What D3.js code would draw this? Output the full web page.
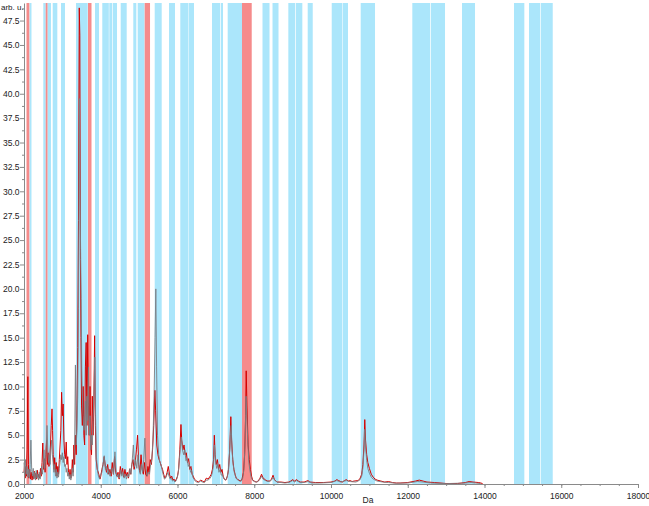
<!DOCTYPE html>
<html>
<head>
<meta charset="utf-8">
<script src="https://cdn.jsdelivr.net/npm/d3@7"></script>
<style>
body { margin: 0; background: #fff; }
svg { display: block; }
</style>
</head>
<body>
<div id="chart"></div>
<script>
// mass ranges (Da) of the highlighted peak windows
var blueBands = [
    [2143, 2195], [2503, 2566], [2612, 2704], [2748, 2868], [2964, 3068],
    [3355, 3660], [3850, 3955], [4040, 4210], [4223, 4293], [4311, 4424],
    [4520, 4676], [4848, 4927], [4963, 5140], [5406, 5588], [5779, 5935],
    [6073, 6287], [6300, 6430], [6899, 7108], [7126, 7186], [7308, 7681],
    [8215, 8398], [8476, 8632], [8888, 9062], [9081, 9253], [9393, 9524],
    [10019, 10295], [10308, 10443], [10774, 11147], [12119, 12580], [12599, 12971],
    [13414, 13753], [14769, 15038], [15160, 15447], [15465, 15778]
];
var redBands = [[2065, 2138], [2566, 2612], [3668, 3759], [5145, 5284], [7681, 7934]];

// spectrum 1 (red)
var redTrace = [
    [2000, 1.2], [2015, 2.0], [2030, 0.6], [2045, 1.8], [2060, 0.8], [2080, 3.5], [2100, 11.0],
    [2115, 2.0], [2130, 0.6], [2150, 1.5], [2170, 0.5], [2190, 1.2], [2210, 0.4], [2230, 1.0],
    [2250, 0.5], [2270, 1.3], [2290, 0.6], [2310, 1.1], [2330, 0.5], [2350, 1.4], [2370, 0.7],
    [2390, 1.0], [2410, 0.6], [2430, 1.6], [2450, 0.8], [2470, 2.2], [2490, 4.2], [2510, 1.5],
    [2530, 2.6], [2550, 1.2], [2570, 3.0], [2590, 4.5], [2610, 2.0], [2630, 3.2], [2650, 1.8],
    [2670, 2.5], [2690, 4.0], [2710, 6.0], [2730, 7.7], [2745, 5.5], [2760, 3.0], [2780, 1.5],
    [2800, 2.7], [2820, 1.2], [2840, 2.2], [2860, 0.8], [2880, 1.8], [2900, 1.0], [2920, 2.5],
    [2940, 4.0], [2960, 5.5], [2980, 9.4], [3000, 7.0], [3020, 8.2], [3040, 4.5], [3060, 3.0],
    [3080, 2.6], [3100, 4.3], [3120, 2.0], [3140, 2.8], [3160, 1.2], [3180, 0.8], [3200, 1.5],
    [3220, 0.6], [3240, 1.0], [3260, 2.5], [3280, 1.2], [3300, 4.0], [3320, 2.0], [3340, 5.0],
    [3360, 3.0], [3380, 8.0], [3400, 14.0], [3420, 27.0], [3440, 48.8], [3455, 46.0], [3470, 23.0],
    [3485, 15.0], [3500, 8.0], [3520, 6.0], [3540, 10.0], [3560, 5.0], [3580, 4.0], [3600, 12.0],
    [3620, 14.5], [3640, 6.0], [3660, 15.3], [3680, 8.0], [3700, 5.0], [3720, 10.0], [3740, 4.0],
    [3760, 3.0], [3780, 9.0], [3800, 5.0], [3820, 8.0], [3840, 15.2], [3860, 6.0], [3880, 2.5],
    [3910, 1.5], [3950, 1.0], [3980, 0.5], [4000, 0.8], [4030, 1.5], [4060, 2.0], [4090, 2.8],
    [4120, 1.8], [4150, 1.2], [4180, 2.0], [4210, 1.0], [4240, 1.5], [4270, 0.8], [4300, 2.2],
    [4330, 1.0], [4360, 2.8], [4390, 1.2], [4420, 0.8], [4450, 1.2], [4480, 0.5], [4510, 1.8],
    [4540, 1.0], [4570, 1.6], [4600, 0.7], [4630, 1.5], [4660, 0.8], [4690, 1.2], [4720, 0.6],
    [4750, 1.5], [4780, 1.0], [4810, 2.0], [4840, 2.5], [4870, 1.5], [4900, 2.2], [4930, 3.5],
    [4960, 5.0], [4990, 2.0], [5020, 1.2], [5050, 3.0], [5080, 1.5], [5110, 1.0], [5140, 2.2],
    [5170, 1.0], [5200, 0.8], [5230, 1.8], [5260, 1.2], [5290, 2.5], [5320, 2.0], [5350, 3.5],
    [5380, 6.0], [5410, 9.6], [5430, 7.5], [5460, 4.0], [5490, 3.0], [5520, 2.5], [5550, 2.2],
    [5580, 1.8], [5610, 1.5], [5640, 1.0], [5670, 0.6], [5700, 0.8], [5730, 1.2], [5760, 1.8],
    [5790, 1.0], [5820, 0.6], [5850, 0.8], [5880, 0.4], [5910, 0.5], [5940, 0.3], [5970, 0.5],
    [6000, 0.8], [6030, 1.5], [6060, 3.5], [6090, 6.1], [6110, 4.5], [6140, 3.5], [6170, 4.0],
    [6200, 3.0], [6230, 3.2], [6260, 2.2], [6290, 2.6], [6320, 1.5], [6350, 1.8], [6380, 1.0],
    [6410, 0.8], [6440, 0.5], [6470, 0.4], [6500, 0.3], [6550, 0.2], [6600, 0.4], [6650, 0.3],
    [6700, 0.2], [6750, 0.6], [6800, 0.5], [6850, 0.8], [6880, 1.0], [6910, 1.5], [6940, 2.5],
    [6960, 5.0], [6980, 3.0], [7010, 2.0], [7040, 2.5], [7070, 1.5], [7100, 2.0], [7130, 1.2],
    [7160, 1.5], [7190, 0.8], [7220, 0.5], [7260, 0.4], [7300, 0.8], [7330, 1.5], [7360, 3.5],
    [7390, 6.9], [7410, 4.5], [7440, 2.5], [7470, 1.5], [7500, 1.0], [7530, 0.6], [7560, 0.5],
    [7600, 0.4], [7640, 0.3], [7680, 0.5], [7720, 1.2], [7750, 3.0], [7775, 7.0], [7790, 11.6],
    [7810, 8.0], [7840, 4.0], [7870, 2.5], [7900, 1.5], [7930, 0.8], [7960, 0.4], [8000, 0.3],
    [8050, 0.2], [8100, 0.3], [8150, 0.6], [8190, 1.0], [8220, 0.7], [8260, 0.5], [8300, 0.4],
    [8350, 0.3], [8400, 0.3], [8450, 0.5], [8490, 0.9], [8520, 0.5], [8560, 0.3], [8600, 0.2],
    [8700, 0.2], [8800, 0.15], [8900, 0.2], [8950, 0.3], [9000, 0.45], [9050, 0.3], [9100, 0.45],
    [9150, 0.3], [9200, 0.2], [9300, 0.2], [9400, 0.35], [9450, 0.2], [9600, 0.15], [9800, 0.15],
    [10000, 0.2], [10100, 0.3], [10150, 0.45], [10200, 0.35], [10250, 0.25], [10300, 0.2],
    [10350, 0.35], [10400, 0.45], [10450, 0.3], [10500, 0.35], [10550, 0.25], [10600, 0.3],
    [10700, 0.35], [10750, 0.5], [10800, 1.0], [10830, 2.0], [10860, 4.0], [10880, 6.6],
    [10900, 4.5], [10930, 3.0], [10960, 2.2], [11000, 1.6], [11050, 1.0], [11100, 0.7],
    [11150, 0.5], [11200, 0.4], [11300, 0.3], [11400, 0.2], [11500, 0.25], [11600, 0.15],
    [11700, 0.1], [11800, 0.1], [12000, 0.15], [12200, 0.3], [12300, 0.4], [12400, 0.3],
    [12500, 0.2], [12700, 0.15], [13000, 0.05], [13300, 0.05], [13500, 0.15], [13600, 0.25],
    [13700, 0.2], [13850, 0.15], [13950, 0.05]
];

// spectrum 2 (grey)
var greyTrace = [
    [2000, 2.2], [2020, 0.8], [2040, 2.5], [2060, 1.0], [2080, 1.8], [2100, 0.7], [2120, 1.5],
    [2140, 0.6], [2160, 2.0], [2180, 4.5], [2200, 1.5], [2220, 0.8], [2240, 1.6], [2260, 0.5],
    [2280, 1.2], [2300, 0.4], [2320, 1.4], [2340, 0.6], [2360, 1.0], [2380, 0.4], [2400, 1.2],
    [2420, 0.5], [2440, 1.0], [2460, 1.8], [2480, 1.0], [2500, 2.0], [2520, 3.5], [2540, 1.6],
    [2560, 2.4], [2580, 3.8], [2600, 6.0], [2620, 3.5], [2640, 2.2], [2660, 3.0], [2680, 2.0],
    [2700, 3.5], [2720, 4.5], [2740, 3.0], [2760, 2.2], [2780, 1.2], [2800, 2.0], [2820, 0.8],
    [2840, 1.5], [2860, 0.6], [2880, 1.2], [2900, 0.7], [2920, 1.6], [2940, 2.2], [2960, 3.0],
    [2980, 2.5], [3000, 3.2], [3020, 2.2], [3040, 2.8], [3060, 1.8], [3080, 2.0], [3100, 1.2],
    [3120, 1.6], [3140, 0.8], [3160, 1.2], [3180, 0.5], [3200, 1.0], [3220, 0.4], [3240, 0.8],
    [3260, 1.6], [3280, 0.8], [3300, 2.5], [3320, 4.0], [3340, 12.2], [3360, 4.0], [3380, 5.5],
    [3400, 9.0], [3420, 18.0], [3445, 39.5], [3460, 30.0], [3475, 24.0], [3490, 19.0], [3505, 12.0],
    [3520, 9.0], [3540, 7.0], [3560, 5.5], [3580, 6.0], [3600, 8.5], [3620, 5.0], [3640, 9.0],
    [3660, 6.5], [3680, 12.0], [3700, 5.0], [3720, 7.0], [3740, 3.5], [3760, 5.0], [3780, 4.0],
    [3800, 6.5], [3820, 9.0], [3845, 13.0], [3865, 7.0], [3885, 3.0], [3910, 1.5], [3940, 0.8],
    [3970, 0.5], [4000, 1.0], [4030, 1.2], [4060, 2.0], [4090, 2.9], [4120, 1.5], [4150, 1.8],
    [4180, 1.0], [4210, 1.4], [4240, 0.8], [4270, 1.2], [4300, 1.6], [4330, 1.0], [4370, 3.3],
    [4400, 1.2], [4430, 0.7], [4460, 1.0], [4490, 0.6], [4520, 1.4], [4550, 0.8], [4580, 1.2],
    [4610, 0.6], [4640, 1.0], [4670, 0.5], [4700, 1.0], [4730, 0.7], [4760, 1.6], [4790, 1.0],
    [4820, 2.4], [4850, 4.0], [4880, 1.8], [4910, 2.5], [4940, 1.6], [4970, 3.0], [5000, 1.5],
    [5030, 1.0], [5060, 2.0], [5090, 1.2], [5120, 2.5], [5150, 4.7], [5180, 1.6], [5210, 0.8],
    [5240, 1.2], [5270, 1.0], [5300, 2.0], [5330, 2.5], [5360, 4.5], [5390, 9.0], [5415, 15.0],
    [5435, 20.0], [5455, 12.0], [5480, 5.0], [5510, 3.0], [5540, 2.2], [5570, 2.0], [5600, 1.4],
    [5630, 0.9], [5660, 0.5], [5690, 0.6], [5720, 0.9], [5750, 1.2], [5780, 0.8], [5810, 0.5],
    [5840, 0.6], [5870, 0.3], [5900, 0.4], [5930, 0.2], [5960, 0.3], [5990, 0.6], [6020, 1.2],
    [6050, 2.6], [6080, 4.0], [6100, 4.8], [6130, 3.5], [6160, 3.0], [6190, 3.5], [6220, 2.4],
    [6250, 2.6], [6280, 1.8], [6310, 2.0], [6340, 1.2], [6370, 1.4], [6400, 0.7], [6430, 0.5],
    [6460, 0.3], [6500, 0.2], [6550, 0.15], [6600, 0.3], [6650, 0.2], [6700, 0.15], [6750, 0.4],
    [6800, 0.4], [6850, 0.6], [6880, 0.8], [6910, 1.2], [6940, 2.0], [6965, 4.0], [6990, 2.5],
    [7020, 1.6], [7050, 2.0], [7080, 1.2], [7110, 1.5], [7140, 0.9], [7170, 1.0], [7200, 0.6],
    [7240, 0.4], [7280, 0.5], [7320, 1.2], [7350, 2.8], [7380, 5.0], [7400, 6.0], [7420, 3.5],
    [7450, 2.0], [7480, 1.2], [7510, 0.8], [7540, 0.5], [7580, 0.4], [7620, 0.3], [7660, 0.3],
    [7700, 0.6], [7730, 1.5], [7760, 4.0], [7785, 9.0], [7805, 7.0], [7830, 4.5], [7860, 2.2],
    [7890, 1.3], [7920, 0.7], [7950, 0.4], [8000, 0.25], [8050, 0.2], [8100, 0.25], [8150, 0.5],
    [8190, 0.8], [8230, 0.5], [8270, 0.4], [8320, 0.3], [8400, 0.25], [8450, 0.4], [8490, 0.7],
    [8530, 0.4], [8600, 0.2], [8700, 0.15], [8800, 0.1], [8900, 0.15], [9000, 0.35], [9050, 0.2],
    [9100, 0.35], [9200, 0.15], [9300, 0.15], [9400, 0.25], [9500, 0.1], [9700, 0.1], [10000, 0.15],
    [10150, 0.35], [10250, 0.2], [10400, 0.35], [10500, 0.25], [10650, 0.2], [10750, 0.4],
    [10800, 0.8], [10830, 1.6], [10860, 3.5], [10880, 5.6], [10900, 3.8], [10930, 2.4],
    [10960, 1.6], [11000, 1.1], [11050, 0.7], [11100, 0.5], [11200, 0.3], [11350, 0.2],
    [11500, 0.15], [11700, 0.08], [12000, 0.1], [12250, 0.25], [12400, 0.2], [12600, 0.1],
    [13000, 0.04], [13500, 0.1], [13650, 0.15], [13900, 0.04]
];

var xTickValues = [2000, 4000, 6000, 8000, 10000, 12000, 14000, 16000, 18000];
var yTickValues = [0, 2.5, 5, 7.5, 10, 12.5, 15, 17.5, 20, 22.5, 25, 27.5, 30, 32.5, 35, 37.5, 40, 42.5, 45, 47.5];

var width = 649, height = 506;
var plotLeft = 24, plotRight = 638, plotTop = 3, plotBottom = 484;
var yMax = 49.3;

var svg = d3.select("#chart").append("svg")
    .attr("width", width)
    .attr("height", height)
    .style("font-family", "'Liberation Sans', Arial, sans-serif");

var x = d3.scaleLinear().domain([2000, 18000]).range([plotLeft, plotRight]);
var y = d3.scaleLinear().domain([0, yMax]).range([plotBottom, plotTop]);

// peak windows
svg.append("g").selectAll("rect.blue")
    .data(blueBands)
    .enter().append("rect")
    .attr("class", "blue")
    .attr("x", function (d) { return x(d[0]); })
    .attr("width", function (d) { return x(d[1]) - x(d[0]); })
    .attr("y", y(yMax))
    .attr("height", y(0) - y(yMax))
    .attr("fill", "#abe6fb");

svg.append("g").selectAll("rect.red")
    .data(redBands)
    .enter().append("rect")
    .attr("class", "red")
    .attr("x", function (d) { return x(d[0]); })
    .attr("width", function (d) { return x(d[1]) - x(d[0]); })
    .attr("y", y(yMax))
    .attr("height", y(0) - y(yMax))
    .attr("fill", "#f58b8b");

var line = d3.line()
    .x(function (d) { return x(d[0]); })
    .y(function (d) { return y(d[1]); });

svg.append("path")
    .datum(redTrace)
    .attr("d", line)
    .attr("fill", "none")
    .attr("stroke", "#d40000")
    .attr("stroke-width", 1);

svg.append("path")
    .datum(greyTrace)
    .attr("d", line)
    .attr("fill", "none")
    .attr("stroke", "#7b7e84")
    .attr("stroke-width", 1)
    .attr("opacity", 0.9);

// axes
var xMinor = svg.append("g")
    .attr("transform", "translate(0," + plotBottom + ")")
    .call(d3.axisBottom(x).ticks(32).tickSize(2).tickFormat(""));
xMinor.select(".domain").remove();

var xAxis = svg.append("g")
    .attr("transform", "translate(0," + plotBottom + ")")
    .call(d3.axisBottom(x).tickValues(xTickValues).tickSize(4).tickSizeOuter(0).tickFormat(d3.format("d")));

var yMinor = svg.append("g")
    .attr("transform", "translate(" + plotLeft + ",0)")
    .call(d3.axisLeft(y).tickValues(d3.range(1.25, yMax, 2.5)).tickSize(2).tickFormat(""));
yMinor.select(".domain").remove();

var yAxis = svg.append("g")
    .attr("transform", "translate(" + plotLeft + ",0)")
    .call(d3.axisLeft(y).tickValues(yTickValues).tickSize(4).tickSizeOuter(0).tickFormat(d3.format(".1f")));

svg.selectAll(".domain, .tick line").attr("stroke", "#8a8a8a");
svg.selectAll(".tick text").attr("fill", "#222").style("font-size", "8.5px");
xAxis.selectAll(".tick text").attr("dy", "0.9em");
yAxis.selectAll(".tick text").attr("x", -4.5);

svg.append("text")
    .attr("x", 1)
    .attr("y", 10)
    .attr("fill", "#222")
    .style("font-size", "8px")
    .text("arb. u.");

svg.append("text")
    .attr("x", 368)
    .attr("y", 503)
    .attr("text-anchor", "middle")
    .attr("fill", "#222")
    .style("font-size", "8.5px")
    .text("Da");
</script>
</body>
</html>
